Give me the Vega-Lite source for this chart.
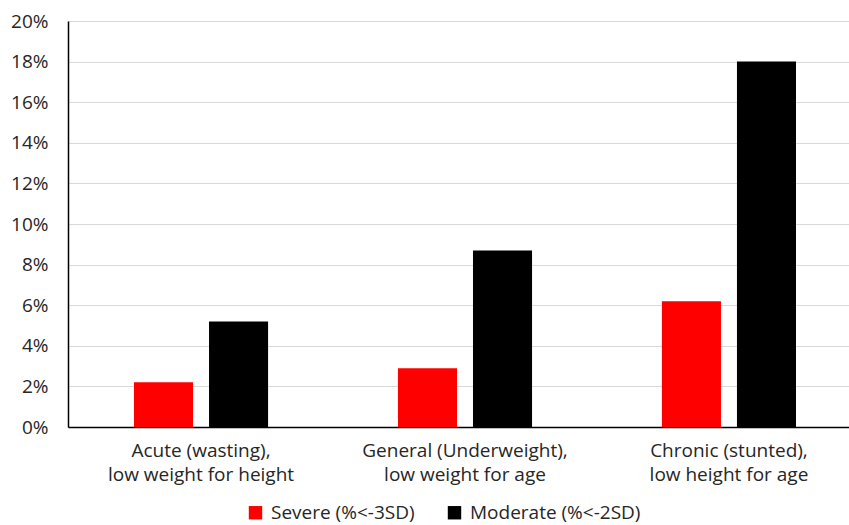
{
  "$schema": "https://vega.github.io/schema/vega-lite/v6.json",
  "width": 794,
  "height": 406,
  "autosize": "none",
  "padding": {"left": 68, "top": 21, "right": 0, "bottom": 98},
  "background": "white",
  "config": {
    "view": {"stroke": null},
    "font": "Open Sans",
    "axis": {"labelFont": "Open Sans", "labelColor": "#262626"},
    "legend": {"labelFont": "Open Sans", "labelColor": "#262626"}
  },
  "data": {
    "values": [
      {"category": "Acute (wasting),|low weight for height", "series": "Severe (%<-3SD)", "value": 0.022},
      {"category": "Acute (wasting),|low weight for height", "series": "Moderate (%<-2SD)", "value": 0.052},
      {"category": "General (Underweight),|low weight for age", "series": "Severe (%<-3SD)", "value": 0.029},
      {"category": "General (Underweight),|low weight for age", "series": "Moderate (%<-2SD)", "value": 0.087},
      {"category": "Chronic (stunted),|low height for age", "series": "Severe (%<-3SD)", "value": 0.062},
      {"category": "Chronic (stunted),|low height for age", "series": "Moderate (%<-2SD)", "value": 0.18}
    ]
  },
  "mark": {"type": "bar"},
  "encoding": {
    "x": {
      "field": "category",
      "type": "nominal",
      "sort": null,
      "scale": {"paddingInner": 0.492, "paddingOuter": 0.25},
      "axis": {
        "title": null,
        "labelAngle": 0,
        "labelExpr": "split(datum.label, '|')",
        "labelFontSize": 19,
        "labelLineHeight": 24,
        "labelPadding": 14,
        "ticks": false,
        "domainColor": "#000000",
        "domainWidth": 1.5,
        "labelLimit": 300
      }
    },
    "xOffset": {
      "field": "series",
      "type": "nominal",
      "sort": ["Severe (%<-3SD)", "Moderate (%<-2SD)"],
      "scale": {"paddingInner": 0.213, "paddingOuter": 0}
    },
    "y": {
      "field": "value",
      "type": "quantitative",
      "scale": {"domain": [0, 0.2], "nice": false},
      "axis": {
        "title": null,
        "format": ".0%",
        "values": [0, 0.02, 0.04, 0.06, 0.08, 0.1, 0.12, 0.14, 0.16, 0.18, 0.2],
        "labelFontSize": 19,
        "labelPadding": 20,
        "ticks": false,
        "domainColor": "#000000",
        "domainWidth": 1.5,
        "grid": true,
        "gridColor": "#d9d9d9",
        "gridWidth": 1
      }
    },
    "color": {
      "field": "series",
      "type": "nominal",
      "sort": ["Severe (%<-3SD)", "Moderate (%<-2SD)"],
      "scale": {"domain": ["Severe (%<-3SD)", "Moderate (%<-2SD)"], "range": ["#ff0000", "#000000"]},
      "legend": {
        "title": null,
        "orient": "none",
        "legendX": 178,
        "legendY": 482,
        "direction": "horizontal",
        "symbolType": "square",
        "symbolSize": 180,
        "symbolStrokeWidth": 0,
        "labelFontSize": 19,
        "labelOffset": 6,
        "labelLimit": 300,
        "columnPadding": 30
      }
    }
  }
}
